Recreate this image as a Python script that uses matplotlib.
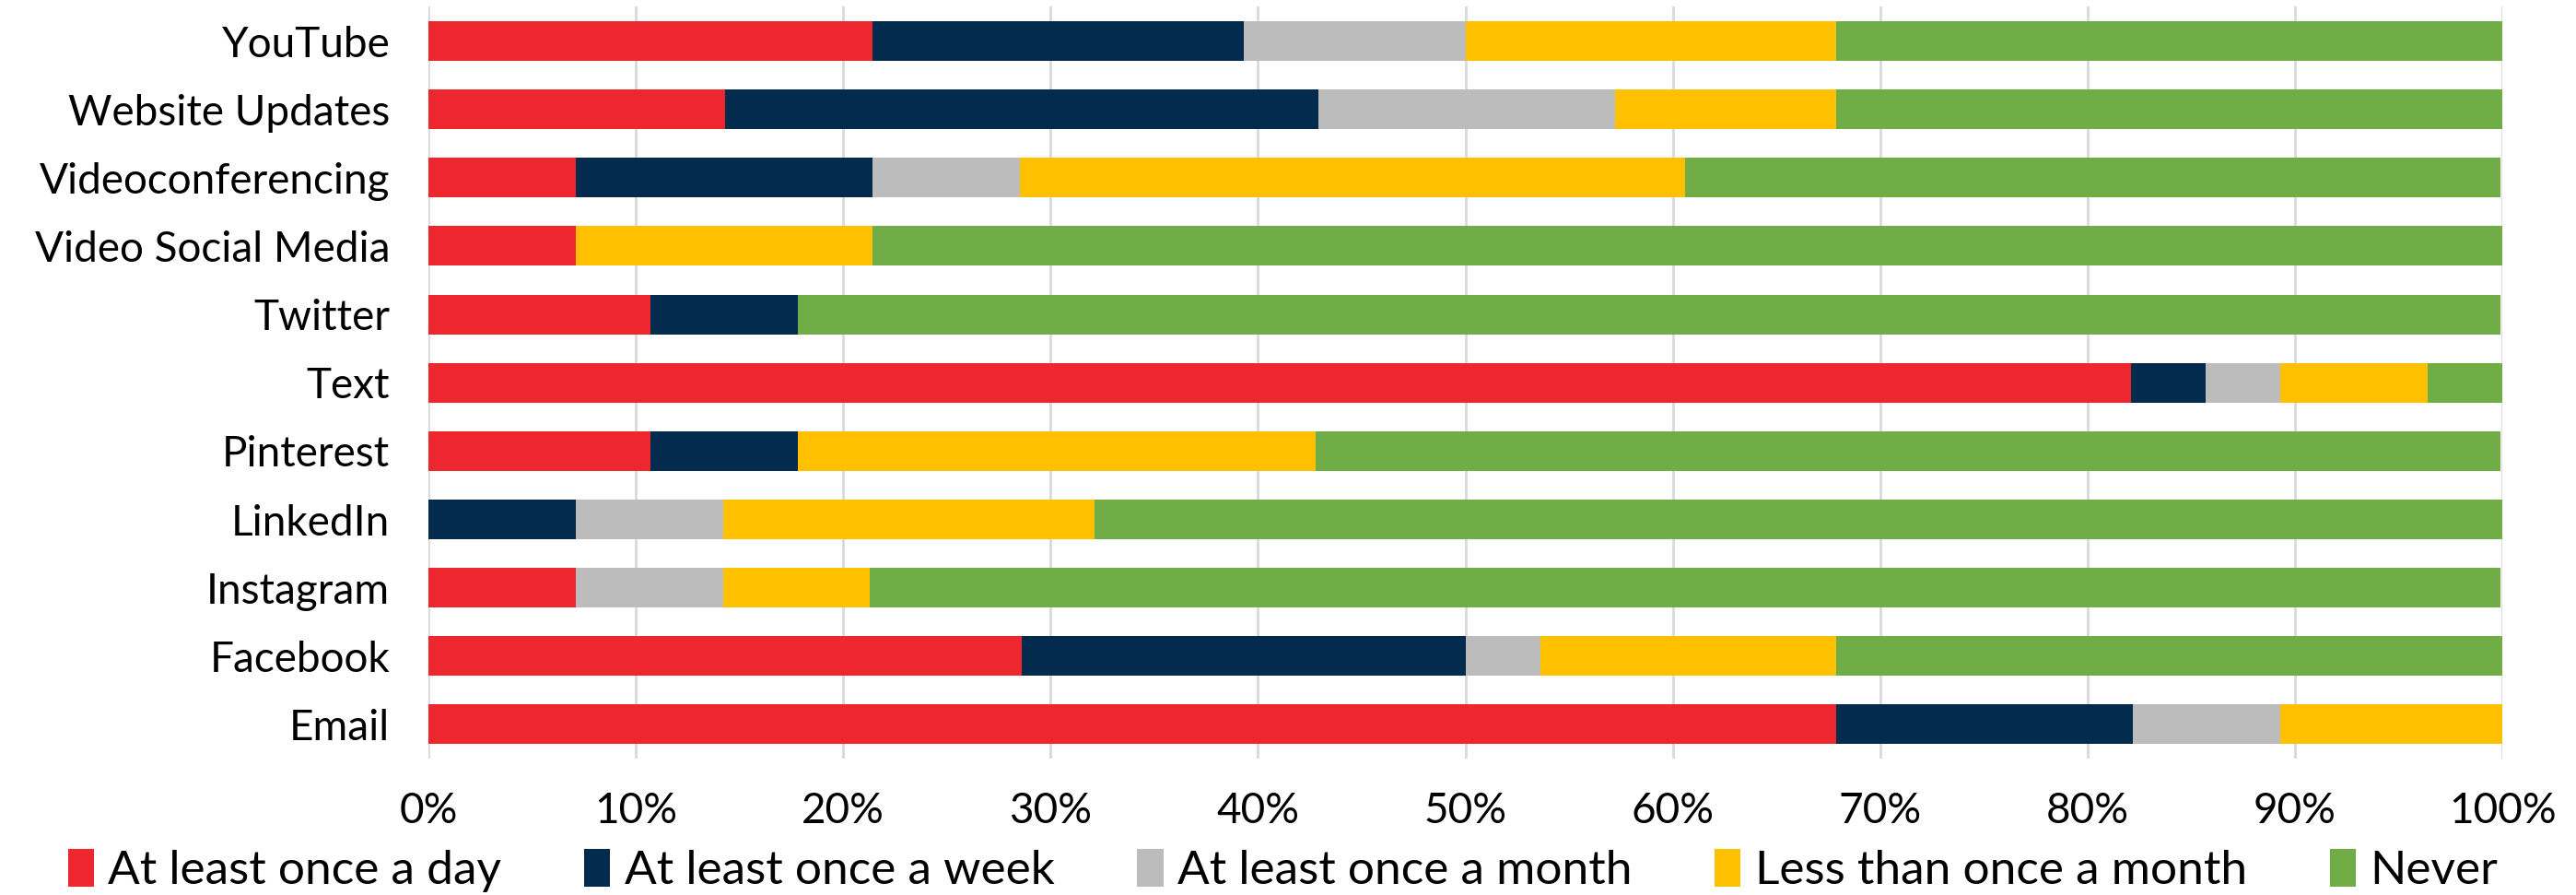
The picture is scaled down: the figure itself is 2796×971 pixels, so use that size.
import numpy as np
import matplotlib.pyplot as plt
from matplotlib.ticker import PercentFormatter

# channels, bottom to top as drawn
channels = ["Email", "Facebook", "Instagram", "LinkedIn", "Pinterest", "Text",
            "Twitter", "Video Social Media", "Videoconferencing", "Website Updates", "YouTube"]

# share of respondents (%) per frequency
daily   = [67.9, 28.6, 7.1, 0.0, 10.7, 82.1, 10.7, 7.1, 7.1, 14.3, 21.4]
weekly  = [14.3, 21.4, 0.0, 7.1, 7.1, 3.6, 7.1, 0.0, 14.3, 28.6, 17.9]
monthly = [7.1, 3.6, 7.1, 7.1, 0.0, 3.6, 0.0, 0.0, 7.1, 14.3, 10.7]
less    = [10.7, 14.3, 7.1, 17.9, 25.0, 7.1, 0.0, 14.3, 32.1, 10.7, 17.9]
never   = [0.0, 32.1, 78.6, 67.9, 57.1, 3.6, 82.1, 78.6, 39.3, 32.1, 32.1]

series = [daily, weekly, monthly, less, never]
labels = ["At least once a day", "At least once a week", "At least once a month",
          "Less than once a month", "Never"]
colors = ["#EE272E", "#022B4E", "#BDBCBC", "#FFC000", "#70AD47"]

plt.rcParams['font.family'] = ['Lato', 'DejaVu Sans']

fig = plt.figure(figsize=(27.96, 9.71), dpi=100)
ax = fig.add_axes([0.1663, 0.1524, 0.8051, 0.8399])

y = np.arange(len(channels))
left = np.zeros(len(channels))
for vals, lab, col in zip(series, labels, colors):
    ax.barh(y, vals, left=left, height=0.58, color=col, label=lab, zorder=2)
    left += np.array(vals)

ax.set_xlim(0, 100)
ax.set_ylim(-0.5, len(channels) - 0.5)
ax.set_yticks(y)
ax.set_yticklabels(channels)
ax.set_xticks(np.arange(0, 101, 10))
ax.xaxis.set_major_formatter(PercentFormatter(decimals=0))
ax.tick_params(axis='both', length=0, labelsize=33, colors='#000000')
ax.tick_params(axis='y', pad=30)
ax.tick_params(axis='x', pad=26)
ax.grid(axis='x', color='#D9D9D9', linewidth=2, zorder=0)
for s in ax.spines.values():
    s.set_visible(False)

fig.legend(loc='center', bbox_to_anchor=(0.019, 0.0, 0.958, 0.054), mode='expand',
           ncol=5, frameon=False, fontsize=37, handlelength=0.55, handleheight=0.85,
           handletextpad=0.3, borderaxespad=0)

fig.savefig("out.png", dpi=100)
